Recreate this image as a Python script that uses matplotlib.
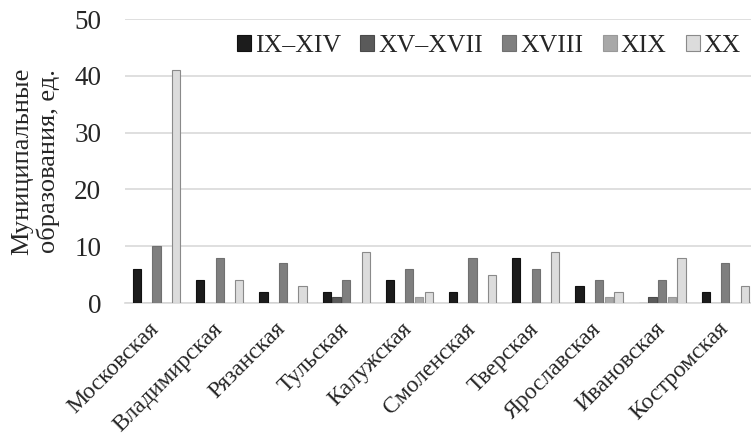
import matplotlib
matplotlib.use("Agg")
import matplotlib.pyplot as plt
import matplotlib.transforms as mtransforms
import numpy as np

plt.rcParams['font.family'] = ['Liberation Serif', 'DejaVu Serif']

regions = ['Московская', 'Владимирская', 'Рязанская', 'Тульская', 'Калужская',
           'Смоленская', 'Тверская', 'Ярославская', 'Ивановская', 'Костромская']
periods = ['IX–XIV', 'XV–XVII', 'XVIII', 'XIX', 'XX']
ix_xiv = [6, 4, 2, 2, 4, 2, 8, 3, 0, 2]
xv_xvii = [0, 0, 0, 1, 0, 0, 0, 0, 1, 0]
xviii = [10, 8, 7, 4, 6, 8, 6, 4, 4, 7]
xix = [0, 0, 0, 0, 1, 0, 0, 1, 1, 0]
xx = [41, 4, 3, 9, 2, 5, 9, 2, 8, 3]
series = [ix_xiv, xv_xvii, xviii, xix, xx]

colors = ['#1c1c1c', '#5a5a5a', '#7f7f7f', '#a8a8a8', '#dcdcdc']
edges = ['#111111', '#4a4a4a', '#707070', '#999999', '#8a8a8a']

fig = plt.figure(figsize=(7.51, 4.36), dpi=100)
ax = fig.add_axes([0.1664, 0.305, 0.8415, 0.6514])

x = np.arange(len(regions))
slot = 0.154
for i, vals in enumerate(series):
    ax.bar(x + (i - 2) * slot, vals, width=0.13, color=colors[i],
           edgecolor=edges[i], linewidth=0.8, label=periods[i], zorder=3)

ax.set_xlim(-0.5, 9.5)
ax.set_ylim(0, 50)
ax.set_yticks([0, 10, 20, 30, 40, 50])
ax.grid(axis='y', color='#d9d9d9', linewidth=1.2, zorder=0)
ax.set_axisbelow(True)
for s in ['left', 'right', 'top']:
    ax.spines[s].set_visible(False)
ax.spines['bottom'].set_color('#d9d9d9')
ax.spines['bottom'].set_linewidth(1.2)
ax.tick_params(axis='both', length=0)
ax.tick_params(axis='y', labelsize=19.5, colors='#262626', pad=17)
ax.set_xticks(x)
ax.set_xticklabels(regions, rotation=45, ha='right', rotation_mode='anchor',
                   fontsize=17, color='#262626')
ax.tick_params(axis='x', pad=11)
shift = mtransforms.ScaledTranslation(-0.08, 0, fig.dpi_scale_trans)
for lab in ax.get_xticklabels():
    lab.set_transform(lab.get_transform() + shift)

ax.set_ylabel('Муниципальные\nобразования, ед.', fontsize=19, color='#262626',
              linespacing=1.2, labelpad=10)

ax.legend(loc='center', bbox_to_anchor=(0.576, 0.905), ncol=5, frameon=False,
          fontsize=18.5, handlelength=0.55, handleheight=0.55, handletextpad=0.15,
          columnspacing=0.75, labelcolor='#262626')

fig.savefig('out.png', dpi=100)
